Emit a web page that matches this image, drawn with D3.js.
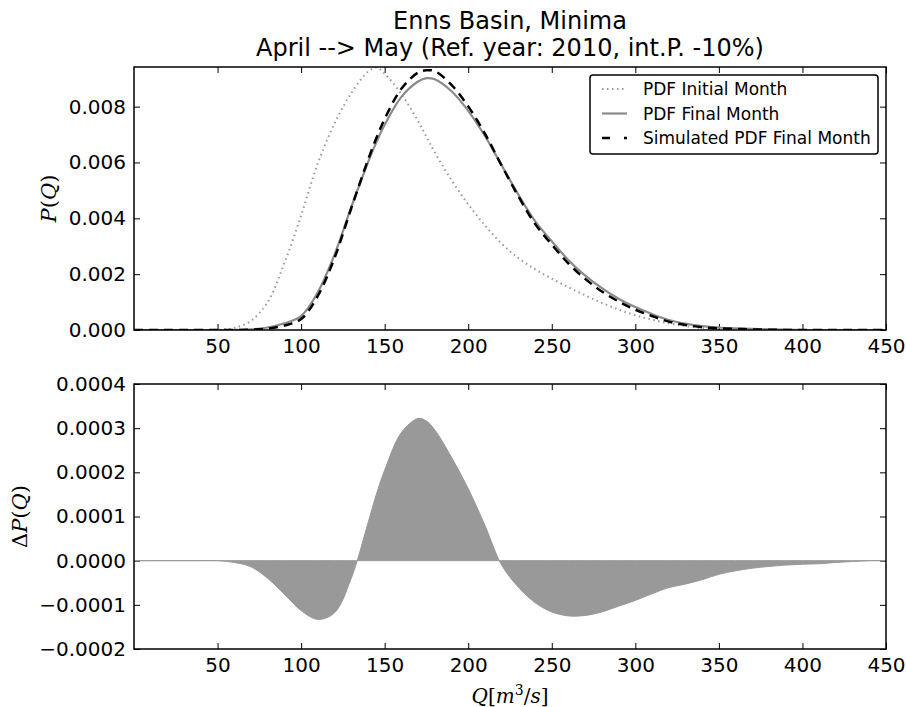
<!DOCTYPE html>
<html>
<head>
<meta charset="utf-8">
<script src="https://cdn.jsdelivr.net/npm/d3@7"></script>
<style>
    body { margin: 0; background: #fff; }
    svg text { font-family: "DejaVu Sans", sans-serif; fill: #000; }
</style>
</head>
<body>
<div id="chart"></div>
<script>
// discharge grid Q [m3/s]
let qValues = [0, 10, 20, 30, 40, 50, 60, 70, 80, 90, 100, 110, 120, 130, 140, 145, 150, 160, 170, 175,
    180, 190, 200, 210, 220, 230, 240, 250, 260, 270, 280, 290, 300, 310, 320, 330, 340, 350, 360, 370,
    380, 390, 400, 410, 420, 430, 440, 450];

let pdfInitial = [0, 0, 0, 0, 0, 0.00001, 0.00007, 0.00033, 0.00100, 0.00240, 0.00410, 0.00597, 0.00740, 0.00848, 0.00925, 0.00940, 0.00918, 0.00845, 0.00748, 0.00692,
    0.00636, 0.00537, 0.00450, 0.00375, 0.00309, 0.00258, 0.00218, 0.00184, 0.00153, 0.00124, 0.00097, 0.00073, 0.00053, 0.00037, 0.00024, 0.00014, 0.00007, 0.00003, 0.00001, 0,
    0, 0, 0, 0, 0, 0, 0, 0];

let pdfFinal = [0, 0, 0, 0, 0, 0, 0, 0.00002, 0.00009, 0.00024, 0.00050, 0.00135, 0.00270, 0.00440, 0.00600, 0.00672, 0.00735, 0.00835, 0.00890, 0.00902,
    0.00898, 0.00855, 0.00785, 0.00695, 0.00590, 0.00485, 0.00390, 0.00318, 0.00250, 0.00195, 0.00150, 0.00112, 0.00082, 0.00057, 0.00036, 0.00023, 0.00014, 0.00009, 0.00006, 0.00004,
    0.00002, 0.00001, 0, 0, 0, 0, 0, 0];

let pdfSimulated = [0, 0, 0, 0, 0, 0, 0, 0.00001, 0.00005, 0.00016, 0.00039, 0.00122, 0.00258, 0.00436, 0.00609, 0.00687, 0.00756, 0.00864, 0.00922, 0.00930,
    0.00927, 0.00878, 0.00801, 0.00703, 0.00589, 0.00479, 0.00380, 0.00306, 0.00238, 0.00183, 0.00138, 0.00102, 0.00073, 0.00050, 0.00030, 0.00018, 0.00010, 0.00006, 0.00004, 0.00002,
    0.00001, 0, 0, 0, 0, 0, 0, 0];

let deltaP = [0, 0, 0, 0, 0, 0, -0.000004, -0.000014, -0.00004, -0.000076, -0.000113, -0.000133, -0.000118, -0.00004, 0.000085, 0.00015, 0.000205, 0.00029, 0.000322, 0.000316,
    0.000296, 0.000234, 0.000163, 0.00008, -0.00001, -0.00006, -0.000095, -0.000116, -0.000125, -0.000124, -0.000116, -0.000103, -0.00009, -0.000075, -0.000061, -0.000053, -0.000043, -0.000031, -0.000023, -0.000017,
    -0.000013, -0.00001, -0.000008, -0.000007, -0.000004, -0.000002, 0, 0];

let xTicks = [50, 100, 150, 200, 250, 300, 350, 400, 450];
let topTicks = [0, 0.002, 0.004, 0.006, 0.008];
let bottomTicks = [-0.0002, -0.0001, 0, 0.0001, 0.0002, 0.0003, 0.0004];
let legendLabels = ['PDF Initial Month', 'PDF Final Month', 'Simulated PDF Final Month'];

let width = 906, height = 707,
    left = 134, right = 886;

let svg = d3.select('#chart').append('svg')
    .attr('width', width)
    .attr('height', height);

svg.append('rect').attr('width', width).attr('height', height).attr('fill', '#fff');

let x = d3.scaleLinear().domain([0, 450]).range([left, right]);
let yTop = d3.scaleLinear().domain([0, 0.00942]).range([330, 67]);
let yBot = d3.scaleLinear().domain([-0.0002, 0.0004]).range([649, 384]);

// title
svg.append('text').attr('x', (left + right) / 2).attr('y', 29)
    .attr('text-anchor', 'middle').style('font-size', '24px')
    .text('Enns Basin, Minima');
svg.append('text').attr('x', (left + right) / 2).attr('y', 56)
    .attr('text-anchor', 'middle').style('font-size', '24px')
    .text('April --> May (Ref. year: 2010, int.P. -10%)');

function drawFrame(y, yTicks, fmt, id) {
    let g = svg.append('g');
    let y0 = y.range()[0], y1 = y.range()[1];

    svg.append('clipPath').attr('id', id)
        .append('rect').attr('x', left).attr('y', y1).attr('width', right - left).attr('height', y0 - y1);

    // inward ticks on all four sides
    let xb = d3.axisBottom(x).tickValues(xTicks).tickSize(-6).tickPadding(9).tickFormat(d3.format('d'));
    let xt = d3.axisTop(x).tickValues(xTicks).tickSize(-6).tickFormat('');
    let yl = d3.axisLeft(y).tickValues(yTicks).tickSize(-6).tickPadding(8).tickFormat(fmt);
    let yr = d3.axisRight(y).tickValues(yTicks).tickSize(-6).tickFormat('');

    g.append('g').attr('transform', 'translate(0,' + y0 + ')').call(xb);
    g.append('g').attr('transform', 'translate(0,' + y1 + ')').call(xt);
    g.append('g').attr('transform', 'translate(' + left + ',0)').call(yl);
    g.append('g').attr('transform', 'translate(' + right + ',0)').call(yr);

    g.selectAll('.domain').remove();
    g.selectAll('.tick line').attr('stroke', '#000').attr('stroke-width', 1);
    g.selectAll('.tick text').style('font-size', '20px').style('font-family', '"DejaVu Sans", sans-serif');

    return g;
}

function drawBorder(y) {
    let y0 = y.range()[0], y1 = y.range()[1];
    svg.append('rect')
        .attr('x', left).attr('y', y1)
        .attr('width', right - left).attr('height', y0 - y1)
        .attr('fill', 'none').attr('stroke', '#000').attr('stroke-width', 1.5);
}

// ---- top panel
drawFrame(yTop, topTicks, d3.format('.3f'), 'clipTop');

let series = [
    {values: pdfInitial, color: '#999', w: 2, dash: '1.5,3.5'},
    {values: pdfFinal, color: '#8a8a8a', w: 2.2, dash: null},
    {values: pdfSimulated, color: '#000', w: 2.5, dash: '9,6'}
];

series.forEach(s => {
    let line = d3.line()
        .x((d, i) => x(qValues[i]))
        .y(d => yTop(d))
        .curve(d3.curveCatmullRom.alpha(0.5));

    svg.append('path')
        .datum(s.values)
        .attr('clip-path', 'url(#clipTop)')
        .attr('fill', 'none')
        .attr('stroke', s.color)
        .attr('stroke-width', s.w)
        .attr('stroke-dasharray', s.dash)
        .attr('d', line);
});

drawBorder(yTop);

// legend
let lg = svg.append('g').attr('transform', 'translate(590,75)');
lg.append('rect').attr('width', 288).attr('height', 79).attr('rx', 3)
    .attr('fill', '#fff').attr('stroke', '#000').attr('stroke-width', 1.5);

legendLabels.forEach((lab, i) => {
    let s = series[i], yy = 14 + i * 24.5;
    lg.append('line')
        .attr('x1', 12).attr('x2', 37).attr('y1', yy).attr('y2', yy)
        .attr('stroke', s.color).attr('stroke-width', s.w)
        .attr('stroke-dasharray', i === 2 ? '8,14' : s.dash);
    lg.append('text').attr('x', 53).attr('y', yy + 6)
        .style('font-size', '17px').text(lab);
});

// y label P(Q)
let pl = svg.append('text')
    .attr('transform', 'translate(56,' + (67 + 330) / 2 + ') rotate(-90)')
    .attr('text-anchor', 'middle')
    .style('font-family', '"DejaVu Serif", serif').style('font-size', '21px');
pl.append('tspan').style('font-style', 'italic').text('P');
pl.append('tspan').text('(');
pl.append('tspan').style('font-style', 'italic').text('Q');
pl.append('tspan').text(')');

// ---- bottom panel
drawFrame(yBot, bottomTicks, d3.format('.4f'), 'clipBot');

let area = d3.area()
    .x((d, i) => x(qValues[i]))
    .y0(yBot(0))
    .y1(d => yBot(d))
    .curve(d3.curveCatmullRom.alpha(0.5));

svg.append('path')
    .datum(deltaP)
    .attr('clip-path', 'url(#clipBot)')
    .attr('fill', '#999')
    .attr('stroke', '#999')
    .attr('stroke-width', 1)
    .attr('d', area);

drawBorder(yBot);

let dl = svg.append('text')
    .attr('transform', 'translate(27,' + (384 + 649) / 2 + ') rotate(-90)')
    .attr('text-anchor', 'middle')
    .style('font-family', '"DejaVu Serif", serif').style('font-size', '21px');
dl.append('tspan').text('\u0394');
dl.append('tspan').style('font-style', 'italic').text('P');
dl.append('tspan').text('(');
dl.append('tspan').style('font-style', 'italic').text('Q');
dl.append('tspan').text(')');

// x label Q[m^3/s]
let xl = svg.append('text')
    .attr('x', (left + right) / 2).attr('y', 703)
    .attr('text-anchor', 'middle')
    .style('font-family', '"DejaVu Serif", serif').style('font-size', '20px');
xl.append('tspan').style('font-style', 'italic').text('Q');
xl.append('tspan').text('[');
xl.append('tspan').style('font-style', 'italic').text('m');
xl.append('tspan').attr('dy', -8).style('font-size', '14px').text('3');
xl.append('tspan').attr('dy', 8).text('/');
xl.append('tspan').style('font-style', 'italic').text('s');
xl.append('tspan').text(']');
</script>
</body>
</html>
